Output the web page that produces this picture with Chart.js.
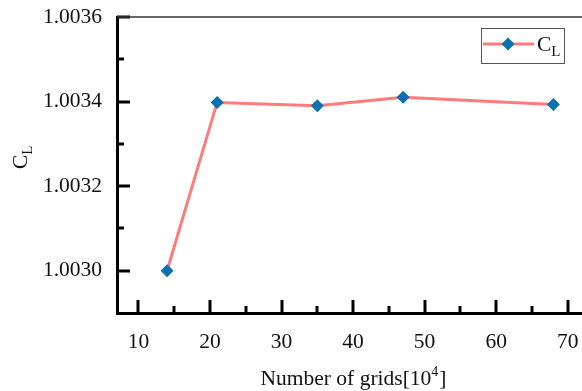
<!DOCTYPE html>
<html>
<head>
<meta charset="utf-8">
<script src="https://cdn.jsdelivr.net/npm/chart.js@4.4.0/dist/chart.umd.min.js"></script>
<style>
  html, body { margin: 0; padding: 0; background: #fff; }
  #wrap { width: 582px; height: 391px; position: relative; }
</style>
</head>
<body>
<div id="wrap"><canvas id="myChart"></canvas></div>
<script>
/* datos */
const grids = [14, 21, 35, 47, 68];
const clValues = [1.0030, 1.003398, 1.00339, 1.00341, 1.003393];
const xTicks = [10, 20, 30, 40, 50, 60, 70];
const yTicks = [1.0030, 1.0032, 1.0034, 1.0036];

const serif = "'Liberation Serif', 'Times New Roman', serif";
const lineColor = '#ff7b7b';
const markColor = '#0a72b0';
const fs = 21.5;

// ticks hacia dentro, borde superior, titulos y leyenda
const extras = {
  id: 'extras',
  afterDraw(chart) {
    const c = chart.ctx;
    const area = chart.chartArea;
    const xs = chart.scales.x;
    const ys = chart.scales.y;
    c.save();
    c.strokeStyle = '#000';
    c.lineWidth = 3;
    // x ticks
    for (let v = 10; v <= 70; v += 5) {
      const px = Math.round(xs.getPixelForValue(v));
      const len = xTicks.includes(v) ? 13 : 7;
      c.beginPath();
      c.moveTo(px, area.bottom);
      c.lineTo(px, area.bottom - len);
      c.stroke();
    }
    // y ticks
    for (let i = 30; i <= 36; i++) {
      const v = 1 + i / 10000;
      const py = Math.round(ys.getPixelForValue(v));
      const len = i % 2 === 0 ? 13 : 7;
      c.beginPath();
      c.moveTo(area.left, py);
      c.lineTo(area.left + len, py);
      c.stroke();
    }
    // borde superior
    c.strokeStyle = '#333';
    c.lineWidth = 1.5;
    c.beginPath();
    c.moveTo(area.left, area.top);
    c.lineTo(chart.width, area.top);
    c.stroke();

    c.fillStyle = '#111';
    c.textBaseline = 'alphabetic';
    // titulo eje x
    const t1 = 'Number of grids[10', t2 = '4', t3 = ']';
    c.font = fs + 'px ' + serif;
    const w1 = c.measureText(t1).width, w3 = c.measureText(t3).width;
    c.font = '14px ' + serif;
    const w2 = c.measureText(t2).width;
    let x0 = 353 - (w1 + w2 + w3) / 2;
    const by = 385;
    c.font = fs + 'px ' + serif;
    c.textAlign = 'left';
    c.fillText(t1, x0, by);
    c.font = '14px ' + serif;
    c.fillText(t2, x0 + w1, by - 9);
    c.font = fs + 'px ' + serif;
    c.fillText(t3, x0 + w1 + w2 + 1, by);

    // titulo eje y
    c.save();
    c.translate(27, 169);
    c.rotate(-Math.PI / 2);
    c.font = fs + 'px ' + serif;
    c.fillText('C', 0, 0);
    const wc = c.measureText('C').width;
    c.font = '15px ' + serif;
    c.fillText('L', wc, 5);
    c.restore();

    // leyenda
    c.strokeStyle = '#555';
    c.lineWidth = 1;
    c.strokeRect(481.5, 28.5, 83, 35);
    c.strokeStyle = lineColor;
    c.lineWidth = 3;
    c.beginPath();
    c.moveTo(483, 44);
    c.lineTo(534, 44);
    c.stroke();
    c.fillStyle = markColor;
    c.beginPath();
    c.moveTo(508 - 6.5, 44);
    c.lineTo(508, 37.5);
    c.lineTo(508 + 6.5, 44);
    c.lineTo(508, 50.5);
    c.closePath();
    c.fill();
    c.fillStyle = '#111';
    c.font = fs + 'px ' + serif;
    c.fillText('C', 537, 51);
    const wl = c.measureText('C').width;
    c.font = '15px ' + serif;
    c.fillText('L', 537 + wl, 56);
    c.restore();
  }
};

new Chart(document.getElementById('myChart'), {
  type: 'line',
  data: {
    datasets: [{
      label: 'CL',
      data: grids.map((g, i) => ({ x: g, y: clValues[i] })),
      borderColor: lineColor,
      borderWidth: 3,
      pointStyle: 'rectRot',
      pointRadius: 6.5,
      pointBorderWidth: 0,
      pointBackgroundColor: markColor,
      pointBorderColor: markColor,
      tension: 0
    }]
  },
  options: {
    responsive: true,
    maintainAspectRatio: false,
    animation: false,
    layout: { autoPadding: false, padding: { top: 17, right: 0, left: 0, bottom: 0 } },
    plugins: {
      legend: { display: false },
      tooltip: { enabled: false }
    },
    scales: {
      x: {
        type: 'linear',
        min: 7,
        max: 72,
        afterFit: s => { s.height = 78; s.paddingLeft = 0; s.paddingRight = 0; },
        afterBuildTicks: s => { s.ticks = xTicks.map(v => ({ value: v })); },
        grid: { display: false, drawTicks: false },
        border: { display: true, color: '#000', width: 3 },
        ticks: {
          padding: 16,
          color: '#111',
          font: { family: serif, size: fs },
          callback: v => String(v)
        }
      },
      y: {
        min: 1.0029,
        max: 1.0036,
        afterFit: s => { s.width = 117; s.paddingTop = 0; s.paddingBottom = 0; },
        afterBuildTicks: s => { s.ticks = yTicks.map(v => ({ value: v })); },
        grid: { display: false, drawTicks: false },
        border: { display: true, color: '#000', width: 3 },
        ticks: {
          padding: 15,
          color: '#111',
          font: { family: serif, size: fs },
          callback: v => v.toFixed(4)
        }
      }
    }
  },
  plugins: [extras]
});
</script>
</body>
</html>
